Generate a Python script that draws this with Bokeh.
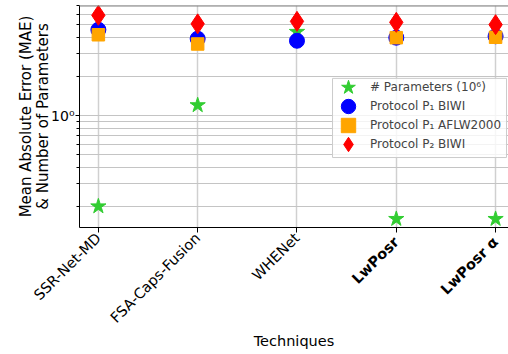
import math
from bokeh.plotting import figure
from bokeh.models import FixedTicker, Legend, LegendItem, Span, LinearAxis
from bokeh.embed import file_html
from bokeh.resources import INLINE

# ---- data ----
techniques = ["SSR-Net-MD", "FSA-Caps-Fusion", "WHENet", "LwPosr", "LwPosr α"]
bold_flags = [False, False, False, True, True]
params_m = [0.2, 1.2, 4.4, 0.16, 0.16]
p1_biwi = [4.57, 3.9, 3.76, 3.97, 4.07]
p1_aflw = [4.18, 3.55, float("nan"), 3.97, 4.0]
p2_biwi = [5.9, 5.07, 5.3, 5.21, 5.0]
y_major = [1]
y_minor = [0.2, 0.3, 0.4, 0.5, 0.6, 0.7, 0.8, 0.9, 2, 3, 4, 5, 6, 7]
y_major_labels = {1: "10⁰"}
legend_labels = ["# Parameters (10⁶)", "Protocol P₁ BIWI", "Protocol P₁ AFLW2000", "Protocol P₂ BIWI"]

FONT = "DejaVu Sans"
xs = list(range(len(techniques)))
y_lo, y_hi = 0.1375, 7.02

p = figure(width=508, height=354, x_range=(-0.19, 4.13), y_range=(y_lo, y_hi),
           y_axis_type="log", output_backend="svg", toolbar_location=None,
           min_border_left=79, min_border_right=0, min_border_top=5, min_border_bottom=127)
p.outline_line_color = None
p.background_fill_color = "white"
p.border_fill_color = "white"

# grids
xt = FixedTicker(ticks=xs)
yt = FixedTicker(ticks=y_major, minor_ticks=y_minor)
xaxis = p.xaxis[0]
yaxis = p.yaxis[0]
xaxis.ticker = xt
p.xgrid.ticker = xt
yaxis.ticker = yt
p.ygrid.ticker = yt
p.xgrid.grid_line_color = "#d0d0d0"
p.xgrid.grid_line_width = 1.5
p.ygrid.grid_line_color = "#c4c4c4"
p.ygrid.minor_grid_line_color = "#c4c4c4"
p.ygrid.grid_line_width = 1
p.ygrid.minor_grid_line_width = 1


def style_axis(ax):
    ax.axis_line_color = "black"
    ax.major_tick_line_color = "black"
    ax.minor_tick_line_color = "black"
    ax.major_tick_in = 0
    ax.minor_tick_in = 0
    ax.major_tick_out = 5
    ax.minor_tick_out = 3
    ax.axis_label_text_font = FONT
    ax.axis_label_text_font_style = "normal"
    ax.axis_label_text_color = "black"
    ax.major_label_text_font = FONT
    ax.major_label_text_font_size = "14.5px"
    ax.major_label_text_color = "black"


style_axis(xaxis)
style_axis(yaxis)

yaxis.major_label_overrides = y_major_labels
yaxis.major_label_text_font_size = "14px"
yaxis.major_tick_out = 4
yaxis.major_label_standoff = 1
yaxis.axis_label = "Mean Absolute Error (MAE)\n& Number of Parameters"
yaxis.axis_label_text_font_size = "15px"
yaxis.axis_label_text_line_height = 0.95
yaxis.axis_label_standoff = -4

# normal-weight technique labels on the main axis
xaxis.major_label_overrides = {x: ("" if b else t) for x, t, b in zip(xs, techniques, bold_flags)}
xaxis.major_label_orientation = math.pi / 4
xaxis.major_label_standoff = 3

# bold technique labels on a second axis, pulled back up next to the frame
bold_x = [x for x, b in zip(xs, bold_flags) if b]
ax_bold = LinearAxis(ticker=FixedTicker(ticks=bold_x),
                     major_label_overrides={x: t for x, t, b in zip(xs, techniques, bold_flags) if b})
style_axis(ax_bold)
ax_bold.axis_line_color = None
ax_bold.major_tick_line_color = None
ax_bold.major_tick_out = 0
ax_bold.minor_tick_out = 0
ax_bold.major_label_orientation = math.pi / 4
ax_bold.major_label_standoff = -95
ax_bold.major_label_text_font_style = "bold"
ax_bold.axis_label = "Techniques"
ax_bold.axis_label_text_font_size = "14.5px"
ax_bold.axis_label_standoff = 27
p.add_layout(ax_bold, "below")

# top spine
p.add_layout(Span(location=y_hi, dimension="width", line_color="#808080", line_width=2))

# legend frame
p.quad(left=2.358, right=4.11, top=1.93, bottom=0.475,
       fill_color="white", fill_alpha=0.8, line_color="#cccccc", line_width=1)

# markers
r_star = p.scatter(xs, params_m, marker="star", size=16, color="limegreen")
r_c = p.scatter(xs, p1_biwi, marker="circle", size=15, color="blue")
r_s = p.scatter(xs, p1_aflw, marker="square", size=12.5, color="orange")
r_d = p.scatter(xs, p2_biwi, marker="diamond", size=20, color="red")

# legend: one single-item legend per row so rows can sit close together
rends = [r_star, r_c, r_s, r_d]
row_bottoms = [122, 103, 84, 65]
for lab, r, yb in zip(legend_labels, rends, row_bottoms):
    lg = Legend(items=[LegendItem(label=lab, renderers=[r])],
                location=(251, yb), glyph_width=36, glyph_height=36,
                padding=0, margin=0, label_standoff=4, spacing=0,
                label_text_font=FONT, label_text_font_size="12px",
                border_line_color=None, background_fill_color=None)
    p.add_layout(lg)

open("out.html", "w").write(file_html(p, INLINE))
